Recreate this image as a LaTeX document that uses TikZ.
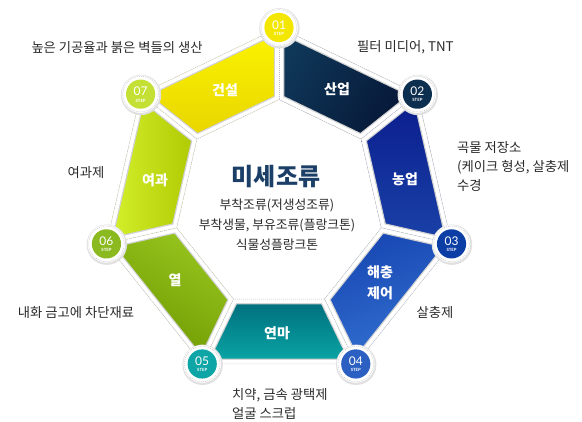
\documentclass[tikz,border=0pt]{standalone}
\usepackage{fontspec}
\setmainfont{Noto Sans CJK KR}
\newfontfamily\numfont{Lato}
\usetikzlibrary{calc}
\definecolor{txt}{HTML}{2A2A2A}
\definecolor{titlec}{HTML}{1B3F66}
\definecolor{dashc}{HTML}{BDBDBD}
\definecolor{cAa}{HTML}{FBF500}\definecolor{cAb}{HTML}{E8D400}
\definecolor{cBa}{HTML}{0F3758}\definecolor{cBb}{HTML}{061636}
\definecolor{cCa}{HTML}{0A1C8C}\definecolor{cCb}{HTML}{1A42A8}
\definecolor{cDa}{HTML}{1746B2}\definecolor{cDb}{HTML}{3472D2}
\definecolor{cEa}{HTML}{006C7C}\definecolor{cEb}{HTML}{0AA8A6}
\definecolor{cFa}{HTML}{6C9600}\definecolor{cFb}{HTML}{98C61E}
\definecolor{cGa}{HTML}{D6F22E}\definecolor{cGb}{HTML}{AEC800}
\definecolor{k1}{HTML}{F3E600}\definecolor{k2}{HTML}{0D2F4F}
\definecolor{k3}{HTML}{0C3EA6}\definecolor{k4}{HTML}{2B60C2}
\definecolor{k5}{HTML}{0EA5A6}\definecolor{k6}{HTML}{8BB920}
\definecolor{k7}{HTML}{C5E035}
\newcommand\cellband[3]{%
  \begin{scope}
    \clip (V#1)--(V#2)--(H#2)--(H#1)--cycle;
    \shade[#3] (V#1)--(V#2)--(H#2)--(H#1)--cycle;
    \draw[black!18, line width=10.5pt] (V#1)--(V#2)--(H#2)--(H#1)--cycle;
    \draw[white, line width=8pt] (V#1)--(V#2)--(H#2)--(H#1)--cycle;
  \end{scope}}
\newcommand\stepcirc[3]{%
  \fill[black!12] ($(V#1)+(0.4,0.8)$) circle (20.2);
  \fill[white] (V#1) circle (18.8);
  \draw[dashc, dash pattern=on 1pt off 1pt, line width=0.4pt] (V#1) circle (17.8);
  \fill[#2] (V#1) circle (14.6);
  \node[numtxt] (num#1) at ($(V#1)+(0,-2.6)$) {#3};
  \node[steptxt] (stp#1) at ($(V#1)+(0,6.3)$) {STEP};}
\begin{document}
\begin{tikzpicture}[x=1pt,y=-1pt,
  numtxt/.style={inner sep=0pt, text=white, font=\numfont\fontsize{12}{12}\selectfont},
  steptxt/.style={inner sep=0pt, text=white, font=\numfont\bfseries\fontsize{4.3}{5}\selectfont},
  bandtxt/.style={inner sep=0pt, text=white, align=center, font=\bfseries\fontsize{14}{21}\selectfont},
  outtxt/.style={inner sep=0pt, text=txt, font=\fontsize{13.3}{16}\selectfont},
  subtxt/.style={inner sep=0pt, text=txt, font=\fontsize{12.8}{14}\selectfont},
  dashline/.style={dashc, dash pattern=on 1pt off 1pt, line width=0.5pt}]
\useasboundingbox (0,0) rectangle (582,422);
\fill[white] (0,0) rectangle (582,422);
\coordinate (C) at (279,204.5);
\foreach \k in {0,...,6}{
  \coordinate (V\k) at ($(C)+(-90+\k*51.42857:177)$);
  \coordinate (H\k) at ($(C)+(-90+\k*51.42857:105)$);
}
% bands
\cellband{6}{0}{top color=cAa, bottom color=cAb}
\cellband{0}{1}{left color=cBa, right color=cBb, shading angle=60}
\cellband{1}{2}{top color=cCa, bottom color=cCb}
\cellband{2}{3}{top color=cDa, bottom color=cDb, shading angle=20}
\cellband{3}{4}{top color=cEa, bottom color=cEb}
\cellband{4}{5}{left color=cFb, right color=cFa, shading angle=-30}
\cellband{5}{6}{left color=cGa, right color=cGb}
% dashed frame
\draw[dashline] (V0)--(V1)--(V2)--(V3)--(V4)--(V5)--(V6)--cycle;
\draw[dashline] (H0)--(H1)--(H2)--(H3)--(H4)--(H5)--(H6)--cycle;
\foreach \k in {0,...,6}{ \draw[dashline] (H\k)--(V\k); }
% step circles
\stepcirc{0}{k1}{01}
\stepcirc{1}{k2}{02}
\stepcirc{2}{k3}{03}
\stepcirc{3}{k4}{04}
\stepcirc{4}{k5}{05}
\stepcirc{5}{k6}{06}
\stepcirc{6}{k7}{07}
% band labels
\node[bandtxt] (l1) at (225,90) {건설};
\node[bandtxt] (l2) at (337,89) {산업};
\node[bandtxt] (l3) at (405,179) {농업};
\node[bandtxt] (l4) at (380,283) {해충\\제어};
\node[bandtxt] (l5) at (277,333) {연마};
\node[bandtxt] (l6) at (175,280) {열};
\node[bandtxt] (l7) at (155,180) {여과};
% center
\node[inner sep=0pt, text=titlec, font=\bfseries\fontsize{24}{26}\selectfont] (title) at (276,177) {미세조류};
\node[subtxt] (s1) at (277,205) {부착조류(저생성조류)};
\node[subtxt] (s2) at (277,225.5) {부착생물, 부유조류(플랑크톤)};
\node[subtxt] (s3) at (277,245) {식물성플랑크톤};
% outer texts
\node[outtxt] (o1) at (117,48) {높은 기공율과 붉은 벽들의 생산};
\node[outtxt, anchor=west] (o2) at (357,47) {필터 미디어, TNT};
\node[outtxt, anchor=west] (o3a) at (457,148) {곡물 저장소};
\node[outtxt, anchor=west] (o3b) at (457,167) {(케이크 형성, 살충제};
\node[outtxt, anchor=west] (o3c) at (457,186) {수경};
\node[outtxt] (o4) at (86,173) {여과제};
\node[outtxt] (o5) at (76,313) {내화 금고에 차단재료};
\node[outtxt] (o6) at (435,313) {살충제};
\node[outtxt, anchor=west] (o7a) at (232,395) {치약, 금속 광택제};
\node[outtxt, anchor=west] (o7b) at (232,413) {얼굴 스크럽};
\end{tikzpicture}
\end{document}
